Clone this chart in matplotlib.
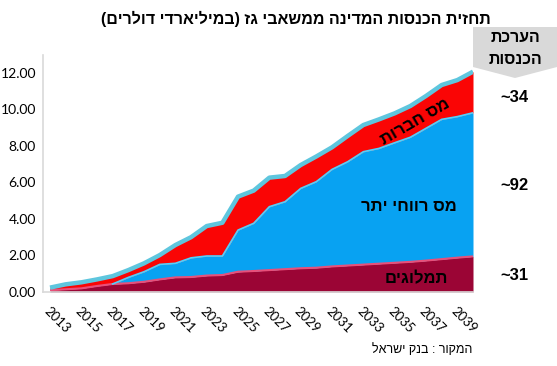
import numpy as np
import matplotlib
matplotlib.use("Agg")
import matplotlib.pyplot as plt
from matplotlib.patches import Polygon

plt.rcParams['font.family'] = ['Liberation Sans', 'DejaVu Sans']

# data (billions of dollars)
years = list(range(2013, 2041))
royalties = [0.10, 0.15, 0.20, 0.33, 0.44, 0.48, 0.56, 0.69, 0.80, 0.82, 0.90, 0.93, 1.11, 1.15,
             1.20, 1.25, 1.30, 1.33, 1.40, 1.45, 1.50, 1.55, 1.60, 1.65, 1.72, 1.80, 1.88, 1.95]
excess_tax = [0.00, 0.00, 0.00, 0.00, 0.00, 0.32, 0.55, 0.82, 0.77, 1.05, 1.07, 1.04, 2.28, 2.61,
              3.47, 3.69, 4.37, 4.71, 5.31, 5.68, 6.18, 6.31, 6.57, 6.82, 7.24, 7.65, 7.72, 7.86]
corp_tax = [0.14, 0.27, 0.33, 0.36, 0.43, 0.40, 0.46, 0.51, 1.00, 1.13, 1.64, 1.82, 1.83, 1.79,
            1.59, 1.41, 1.28, 1.38, 1.21, 1.41, 1.46, 1.59, 1.61, 1.71, 1.77, 1.88, 2.00, 2.25]
estimates = ["~34", "~92", "~31"]
tick_years = list(range(2013, 2041, 2))

title = "תחזית הכנסות המדינה ממשאבי גז (במיליארדי דולרים)"
source = "המקור : בנק ישראל"


def heb(s):
    # matplotlib has no bidi, flip the string by hand
    s = s[::-1]
    return s.translate(str.maketrans("()", ")("))


x = np.array(years)
r = np.array(royalties)
e = r + np.array(excess_tax)
t = e + np.array(corp_tax)

fig = plt.figure(figsize=(5.57, 3.66), dpi=100)
ax = fig.add_axes([43 / 557, 74 / 366, 430 / 557, 237.5 / 366])

ax.fill_between(x, 0, r, color="#9B0535", lw=0)
ax.fill_between(x, r, e, color="#08A2F2", lw=0)
ax.fill_between(x, e, t, color="#FA0505", lw=0)
ax.plot(x, r, color="#E8507A", lw=1.5, solid_capstyle="butt")
ax.plot(x[4:], e[4:], color="#4FD2FF", lw=1.2)
ax.plot(x, t, color="#5EC6DE", lw=3.2, solid_capstyle="butt")

ax.set_xlim(2012.55, 2040)
ax.set_ylim(0, 13)
ax.set_yticks(np.arange(0, 13, 2))
ax.set_yticklabels(["%.2f" % v for v in np.arange(0, 13, 2)], fontsize=10, family="Lato")
ax.set_xticks(tick_years)
ax.set_xticklabels([str(y) for y in tick_years], rotation=-45, ha="left", va="top",
                   rotation_mode="anchor", fontsize=9.5, family="Lato")
ax.tick_params(length=0)
ax.tick_params(axis="x", pad=9)
ax.tick_params(axis="y", pad=5)
for s in ["top", "right"]:
    ax.spines[s].set_visible(False)
for s in ["left", "bottom"]:
    ax.spines[s].set_color("#D9D9D9")
    ax.spines[s].set_linewidth(1.2)

# series labels
ax.text(2036.3, 9.3, heb("מס חברות"), rotation=30, fontsize=12, fontweight="bold",
        ha="center", va="center")
ax.text(2035.9, 4.7, heb("מס רווחי יתר"), fontsize=12, fontweight="bold", ha="center", va="center")
ax.text(2036.4, 0.75, heb("תמלוגים"), fontsize=12, fontweight="bold", ha="center", va="center")

fig.text(296 / 557, 1 - 19 / 366, heb(title), fontsize=11.5, fontweight="bold", ha="center", va="center")
fig.text(472 / 557, 1 - 350 / 366, heb(source), fontsize=9, ha="right", va="center")

# estimate box on the right
W, H = 557, 366
box = [(473, 27), (557, 27), (557, 67), (515, 78), (473, 67)]
fig.patches.append(Polygon([(px / W, 1 - py / H) for px, py in box], closed=True,
                           transform=fig.transFigure, facecolor="#D9D9D9", edgecolor="none"))
fig.text(515 / W, 1 - 38 / H, heb("הערכת"), fontsize=11.5, fontweight="bold", ha="center", va="center")
fig.text(515 / W, 1 - 59 / H, heb("הכנסות"), fontsize=11.5, fontweight="bold", ha="center", va="center")
for lbl, py in zip(estimates, [97, 185, 275]):
    fig.text(514 / W, 1 - py / H, lbl, fontsize=12, fontweight="bold", ha="center", va="center")

fig.savefig("out.png", dpi=100)
